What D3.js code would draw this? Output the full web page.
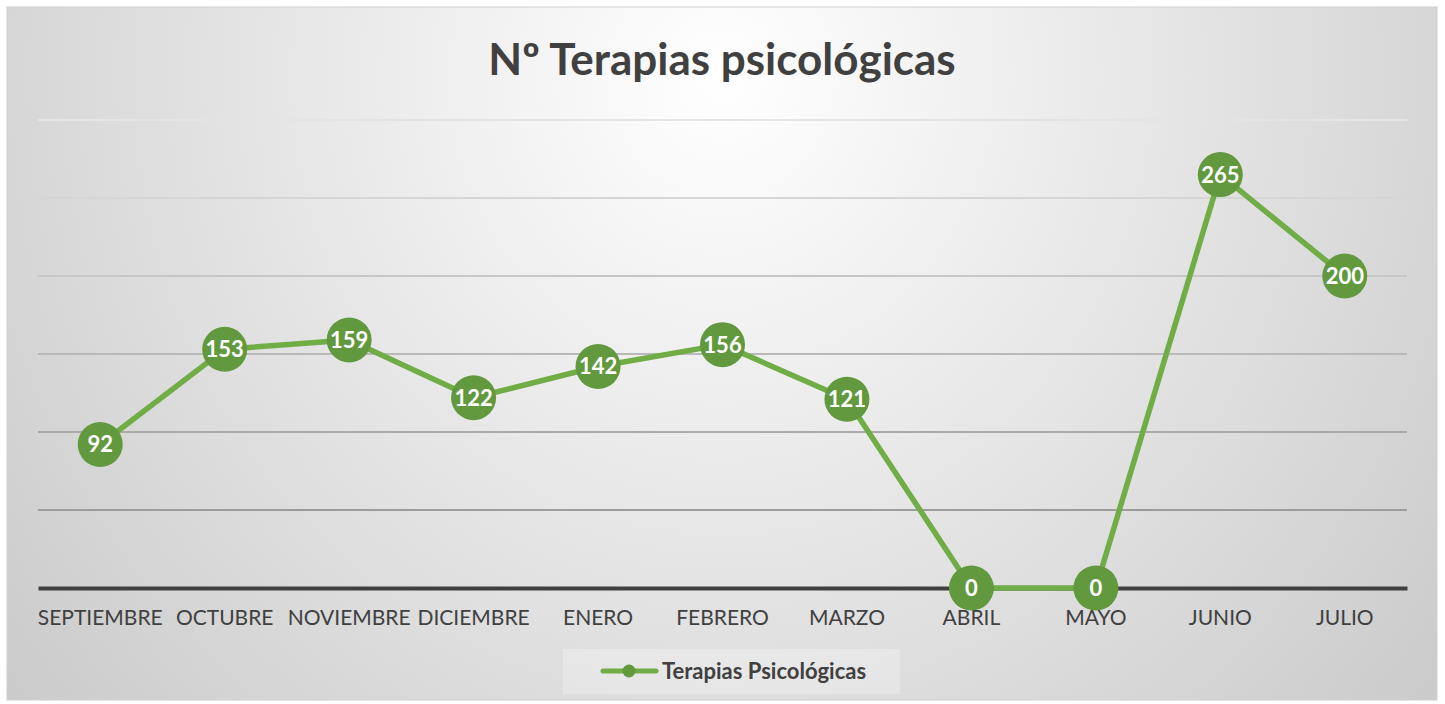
<!DOCTYPE html>
<html>
<head>
<meta charset="utf-8">
<script src="https://cdn.jsdelivr.net/npm/d3@7/dist/d3.min.js"></script>
<style>
  body { margin: 0; background: #fff; }
  svg { display: block; font-family: Lato, 'Open Sans', sans-serif; }
</style>
</head>
<body>
<div id="chart"></div>
<script>
// chart data
var months = ['SEPTIEMBRE', 'OCTUBRE', 'NOVIEMBRE', 'DICIEMBRE', 'ENERO', 'FEBRERO', 'MARZO', 'ABRIL', 'MAYO', 'JUNIO', 'JULIO']
var terapias = [92, 153, 159, 122, 142, 156, 121, 0, 0, 265, 200]
var gridTicks = [0, 50, 100, 150, 200, 250, 300]
var titleText = 'Nº Terapias psicológicas'
var seriesName = 'Terapias Psicológicas'

var W = 1445
var H = 704
var plot = { left: 38, right: 1407, top: 120, bottom: 588 }

var svg = d3.select('#chart').append('svg')
  .attr('width', W)
  .attr('height', H)

// background radial gradient like the office chart area
var defs = svg.append('defs')
var grad = defs.append('radialGradient')
  .attr('id', 'bgGrad')
  .attr('cx', '50%').attr('cy', '10%').attr('r', '75%')
  .attr('gradientTransform', 'translate(0.5,0.1) scale(1,2.2) translate(-0.5,-0.1)')
grad.append('stop').attr('offset', '0%').attr('stop-color', '#ffffff')
grad.append('stop').attr('offset', '100%').attr('stop-color', '#c2c2c2')

svg.append('rect')
  .attr('x', 7).attr('y', 7)
  .attr('width', 1430).attr('height', 693)
  .attr('fill', 'url(#bgGrad)')
  .attr('stroke', '#cfcfcf')
  .attr('stroke-width', 1)

// scales
var x = d3.scaleBand().domain(months).range([plot.left, plot.right])
var y = d3.scaleLinear().domain([0, 300]).range([plot.bottom, plot.top])
var gridColor = d3.scaleLinear().domain([300, 50]).range(['#e4e4e4', '#9c9c9c'])

// gridlines
svg.append('g')
  .selectAll('line')
  .data(gridTicks.filter(function (d) { return d > 0 }))
  .enter()
  .append('line')
  .attr('x1', plot.left)
  .attr('x2', plot.right)
  .attr('y1', function (d) { return y(d) })
  .attr('y2', function (d) { return y(d) })
  .attr('stroke', function (d) { return gridColor(d) })
  .attr('stroke-width', 2)

// x axis (baseline + labels)
var xAxis = d3.axisBottom(x).tickSize(0).tickPadding(21)
var gx = svg.append('g')
  .attr('transform', 'translate(0,' + y(0) + ')')
  .call(xAxis)
gx.select('.domain').attr('stroke', '#404040').attr('stroke-width', 4)
gx.selectAll('text')
  .attr('fill', '#404040')
  .attr('font-size', 21)
  .attr('font-family', 'Lato, sans-serif')
  .attr('dy', '0.75em')

// title
svg.append('text')
  .attr('x', 722)
  .attr('y', 75)
  .attr('text-anchor', 'middle')
  .attr('font-size', 44)
  .attr('font-weight', 'bold')
  .attr('fill', '#404040')
  .text(titleText)

// line
var line = d3.line()
  .x(function (d, i) { return x(months[i]) + x.bandwidth() / 2 })
  .y(function (d) { return y(d) })

svg.append('path')
  .datum(terapias)
  .attr('d', line)
  .attr('fill', 'none')
  .attr('stroke', '#70ad47')
  .attr('stroke-width', 5.5)
  .attr('stroke-linejoin', 'round')

// markers with labels
var pts = svg.append('g')
  .selectAll('g')
  .data(terapias)
  .enter()
  .append('g')
  .attr('transform', function (d, i) {
    return 'translate(' + (x(months[i]) + x.bandwidth() / 2) + ',' + y(d) + ')'
  })
pts.append('circle')
  .attr('r', 22.5)
  .attr('fill', '#62993e')
pts.append('text')
  .attr('text-anchor', 'middle')
  .attr('dy', '0.36em')
  .attr('fill', '#ffffff')
  .attr('font-size', 22)
  .attr('font-weight', 'bold')
  .text(function (d) { return d })

// legend
var lg = svg.append('g')
lg.append('rect')
  .attr('x', 563).attr('y', 649)
  .attr('width', 337).attr('height', 45)
  .attr('fill', '#ffffff')
  .attr('fill-opacity', 0.25)
lg.append('line')
  .attr('x1', 603).attr('x2', 656)
  .attr('y1', 671).attr('y2', 671)
  .attr('stroke', '#70ad47')
  .attr('stroke-width', 5)
  .attr('stroke-linecap', 'round')
lg.append('circle')
  .attr('cx', 629).attr('cy', 671)
  .attr('r', 6.5)
  .attr('fill', '#62993e')
lg.append('text')
  .attr('x', 662).attr('y', 671)
  .attr('dy', '0.36em')
  .attr('font-size', 22)
  .attr('font-weight', 'bold')
  .attr('fill', '#404040')
  .text(seriesName)
</script>
</body>
</html>
